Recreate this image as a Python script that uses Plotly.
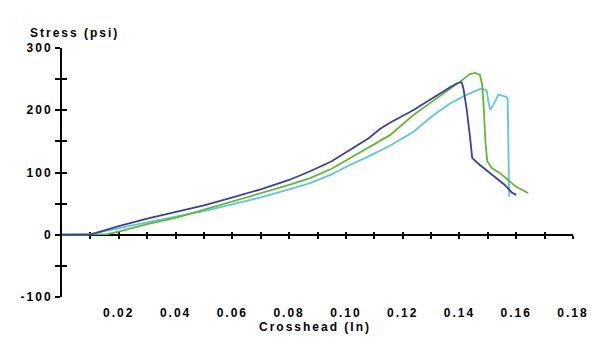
import plotly.graph_objects as go

# Crosshead displacement (in) vs. stress (psi) for three specimens
blue_x = [0, 0.0095, 0.012, 0.02, 0.03, 0.04, 0.05, 0.0592, 0.07, 0.08, 0.0874, 0.095,
          0.1014, 0.108, 0.112, 0.1155, 0.1237, 0.1332, 0.1367, 0.139, 0.1408, 0.1414,
          0.1426, 0.1437, 0.1445, 0.1472, 0.152, 0.156, 0.1584, 0.160]
blue_y = [0, 0, 3, 14, 26, 37, 47, 59, 73, 88, 102, 118,
          136, 155, 170, 180, 200, 228, 237, 243, 245, 235,
          200, 158, 123, 112, 94, 80, 68, 64]

green_x = [0, 0.014, 0.016, 0.02, 0.03, 0.04, 0.05, 0.0592, 0.07, 0.08, 0.0874, 0.095,
           0.1014, 0.108, 0.112, 0.1155, 0.1237, 0.1355, 0.1402, 0.1437, 0.1455, 0.1472,
           0.148, 0.1486, 0.1492, 0.1498, 0.1514, 0.1543, 0.160, 0.1642]
green_y = [0, 0, 1, 5, 17, 27, 40, 53, 66, 80, 91, 106,
           123, 140, 151, 160, 192, 230, 246, 258, 260, 257,
           241, 200, 147, 118, 107, 99, 77, 67]

cyan_x = [0, 0.009, 0.012, 0.02, 0.03, 0.04, 0.05, 0.0592, 0.07, 0.08, 0.0874, 0.095,
          0.1014, 0.108, 0.112, 0.1155, 0.1237, 0.1308, 0.1367, 0.1426, 0.1478, 0.1496,
          0.1502, 0.1508, 0.152, 0.1537, 0.1554, 0.1566, 0.157, 0.1572, 0.1573, 0.1575]
cyan_y = [0, 0, 3, 11, 20, 29, 38, 48, 60, 73, 83, 97,
          112, 126, 135, 143, 165, 192, 211, 225, 235, 232,
          214, 201, 209, 225, 223, 221, 217, 160, 115, 61]

x_tickvals = [0.02, 0.04, 0.06, 0.08, 0.10, 0.12, 0.14, 0.16, 0.18]
x_ticktext = ["0.02", "0.04", "0.06", "0.08", "0.10", "0.12", "0.14", "0.16", "0.18"]
x_minor_ticks = [0.01, 0.02, 0.03, 0.04, 0.05, 0.06, 0.07, 0.08, 0.09,
                 0.10, 0.11, 0.12, 0.13, 0.14, 0.15, 0.16, 0.17, 0.18]
y_tickvals = [-100, -50, 0, 50, 100, 150, 200, 250, 300]
y_ticktext = ["-100", "", "0", "", "100", "", "200", "", "300"]

X_RANGE = [0, 0.18]
Y_RANGE = [-100, 300]

FONT = dict(family="Liberation Sans, Arial, sans-serif", size=12, color="black")
BOLD_FONT = dict(FONT, weight="bold")

fig = go.Figure()
for xs, ys, color in [(cyan_x, cyan_y, "#5cc6e0"),
                      (green_x, green_y, "#62b830"),
                      (blue_x, blue_y, "#3b40a0")]:
    fig.add_trace(go.Scatter(x=xs, y=ys, mode="lines",
                             line=dict(color=color, width=1.8),
                             showlegend=False, hoverinfo="skip"))

# helper traces so the overlay axes are drawn
fig.add_trace(go.Scatter(x=[None], y=[None], xaxis="x2", yaxis="y", showlegend=False))
fig.add_trace(go.Scatter(x=[None], y=[None], xaxis="x3", yaxis="y", showlegend=False))
fig.add_trace(go.Scatter(x=[None], y=[None], xaxis="x", yaxis="y2", showlegend=False))

zero_pos = (0 - Y_RANGE[0]) / (Y_RANGE[1] - Y_RANGE[0])

fig.update_layout(
    width=615, height=350, autosize=False,
    margin=dict(l=62, r=42, t=48, b=53),
    paper_bgcolor="white", plot_bgcolor="white",
    font=FONT,
    xaxis=dict(range=X_RANGE, showgrid=False, zeroline=False, showline=False,
               tickmode="array", tickvals=x_tickvals, ticktext=x_ticktext,
               ticks="", tickfont=BOLD_FONT, ticklabelstandoff=7),
    # axis line at zero stress, ticks crossing both sides
    xaxis2=dict(range=X_RANGE, overlaying="x", anchor="free", position=zero_pos,
                showgrid=False, zeroline=False, showline=True, linecolor="black",
                linewidth=2, tickmode="array", tickvals=x_minor_ticks,
                ticks="outside", ticklen=3, tickwidth=1.5, tickcolor="black",
                showticklabels=False, layer="below traces"),
    xaxis3=dict(range=X_RANGE, overlaying="x", anchor="free", position=zero_pos,
                showgrid=False, zeroline=False, showline=False,
                tickmode="array", tickvals=x_minor_ticks,
                ticks="inside", ticklen=3, tickwidth=1.5, tickcolor="black",
                showticklabels=False, layer="below traces"),
    yaxis=dict(range=Y_RANGE, showgrid=False, zeroline=False, showline=True,
               linecolor="black", linewidth=2, tickmode="array",
               tickvals=y_tickvals, ticktext=y_ticktext,
               ticks="outside", ticklen=5, tickwidth=1.5, tickcolor="black",
               tickfont=BOLD_FONT, layer="below traces"),
    yaxis2=dict(range=Y_RANGE, overlaying="y", anchor="x", side="left",
                showgrid=False, zeroline=False, showline=False,
                tickmode="array", tickvals=y_tickvals,
                ticks="inside", ticklen=5, tickwidth=1.5, tickcolor="black",
                showticklabels=False, layer="below traces"),
    annotations=[
        dict(text="Stress (psi)", xref="paper", yref="paper", x=-0.0425, y=1.062,
             xanchor="left", yanchor="middle", showarrow=False, font=BOLD_FONT),
        dict(text="Crosshead (In)", xref="paper", yref="paper", x=0.495, y=-0.12,
             xanchor="center", yanchor="middle", showarrow=False, font=BOLD_FONT),
    ],
)

# letter-spaced label typography
spacing_css = """
var s = document.createElement('style');
s.textContent = '.xtick text, .ytick text, .annotation-text { letter-spacing: 2px; }';
document.head.appendChild(s);
"""

fig.write_html("out.html", post_script=spacing_css)
